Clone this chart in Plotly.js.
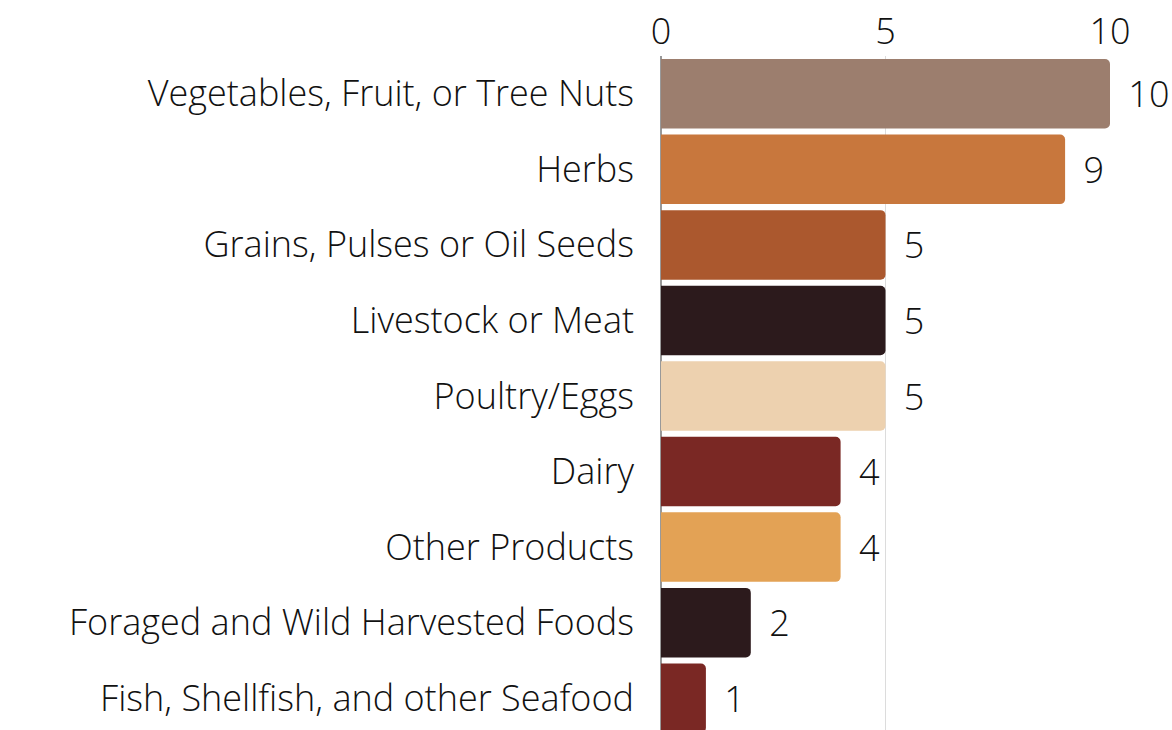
<!DOCTYPE html>
<html><head><meta charset="utf-8">
<script src="https://cdn.plot.ly/plotly-3.0.1.min.js"></script>
<style>html,body{margin:0;padding:0;overflow:hidden;background:#fff}</style>
</head><body><div id="chart"></div>
<script>
const categories = ["Vegetables, Fruit, or Tree Nuts","Herbs","Grains, Pulses or Oil Seeds","Livestock or Meat","Poultry/Eggs","Dairy","Other Products","Foraged and Wild Harvested Foods","Fish, Shellfish, and other Seafood"];
const counts = [10, 9, 5, 5, 5, 4, 4, 2, 1];
const barColors = ["#9C7E6E","#C8773D","#AB582E","#2C1A1C","#EDD1AF","#7A2824","#E3A255","#2C1A1C","#7A2824"];
const xTicks = [0, 5, 10];

const FONT = "'Open Sans', 'Noto Sans', sans-serif";
Plotly.newPlot('chart', [{
  type: 'bar', orientation: 'h',
  y: categories, x: counts,
  marker: {color: barColors, cornerradius: 5, line: {width: 0}},
  width: 0.92,
  texttemplate: '\u00a0\u2009%{x}',
  textposition: 'outside', cliponaxis: false,
  textfont: {family: FONT, size: 36, weight: 300, color: '#111'},
  hoverinfo: 'none'
}], {
  width: 1172, height: 740,
  margin: {l: 661, r: 62, t: 56, b: 4},
  paper_bgcolor: '#fff', plot_bgcolor: '#fff',
  showlegend: false,
  bargap: 0.08,
  xaxis: {side: 'top', range: [0, 10], tickvals: xTicks, ticktext: xTicks.map(String),
    showgrid: true, gridcolor: '#dcdcdc', gridwidth: 1.5, zeroline: true, zerolinecolor: '#999', zerolinewidth: 1.5,
    showline: false, ticks: '', ticklabelstandoff: 4,
    tickfont: {family: FONT, size: 36, weight: 300, color: '#111'}, fixedrange: true},
  yaxis: {autorange: 'reversed', showgrid: false, zeroline: false, showline: false, ticks: '',
    ticklabelstandoff: 26,
    tickfont: {family: FONT, size: 36, weight: 300, color: '#111'}, fixedrange: true},
  font: {family: FONT, color: '#111'}
}, {displayModeBar: false, staticPlot: true});
</script></body></html>
